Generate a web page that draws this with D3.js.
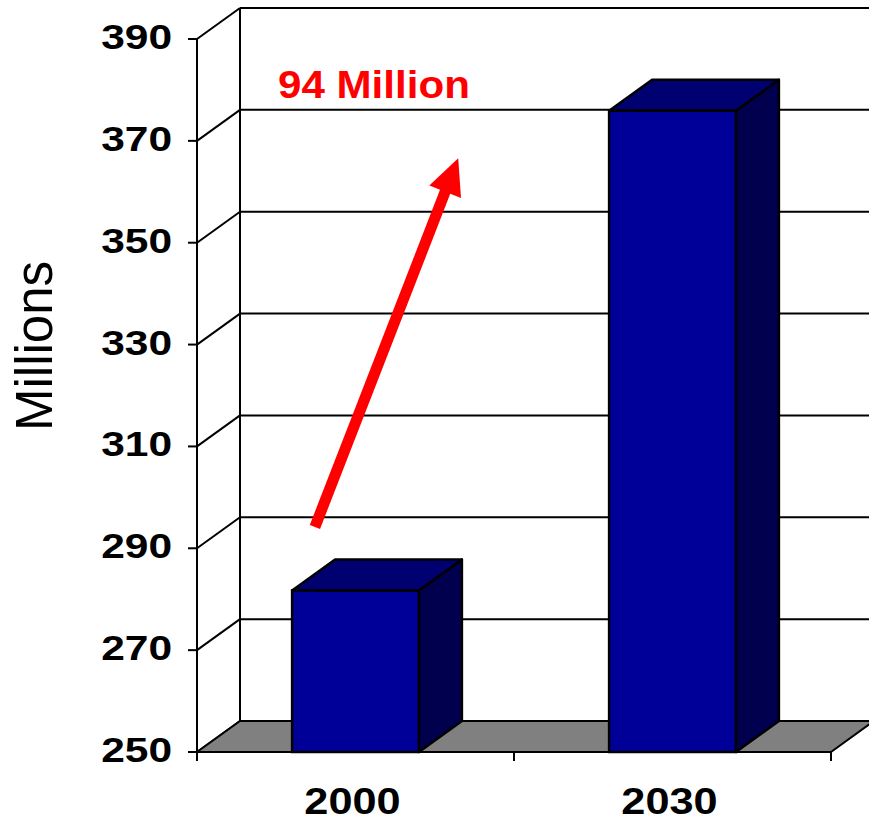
<!DOCTYPE html>
<html>
<head>
<meta charset="utf-8">
<script src="https://cdn.jsdelivr.net/npm/d3@7"></script>
<style>
  html, body { margin: 0; padding: 0; background: #fff; }
  svg { display: block; }
  text { font-family: Arial, "Liberation Sans", sans-serif; }
</style>
</head>
<body>
<svg id="chart" width="869" height="826"></svg>
<script>
// ---- data ----
const categories = ["2000", "2030"];
const values = [281.7, 375.9];
const yTicks = [250, 270, 290, 310, 330, 350, 370, 390];
const yLabel = "Millions";
const annotationText = "94 Million";
// annotation arrow, in value/fraction terms
const arrowTail = { fx: 0.186, v: 294.2 };
const arrowTip  = { fx: 0.412, v: 366.6 };

// ---- layout ----
const svg = d3.select("#chart");
const pLeft = 197, pRight = 831, pBottom = 752, pTop = 39;
const DX = 43, DY = -31;

const y = d3.scaleLinear().domain([250, 390]).range([pBottom, pTop]);
const x = d3.scaleBand().domain(categories).range([pLeft, pRight]).paddingInner(0).paddingOuter(0);
const fx = d3.scaleLinear().domain([0, 1]).range([pLeft, pRight]);
const barW = x.bandwidth() * 0.4;

const g = svg.append("g");

// back wall gridlines
g.selectAll("line.gridBack").data(yTicks).join("line")
  .attr("x1", pLeft + DX).attr("x2", pRight + DX)
  .attr("y1", d => y(d) + DY).attr("y2", d => y(d) + DY)
  .attr("stroke", "#000").attr("stroke-width", 2);

// side wall gridlines
g.selectAll("line.gridSide").data(yTicks).join("line")
  .attr("x1", pLeft).attr("x2", pLeft + DX)
  .attr("y1", d => y(d)).attr("y2", d => y(d) + DY)
  .attr("stroke", "#000").attr("stroke-width", 2);

// back wall left edge
g.append("line")
  .attr("x1", pLeft + DX).attr("x2", pLeft + DX)
  .attr("y1", y(390) + DY).attr("y2", y(250) + DY)
  .attr("stroke", "#000").attr("stroke-width", 2);

// floor
g.append("polygon")
  .attr("points", [[pLeft, y(250)], [pRight, y(250)], [pRight + DX, y(250) + DY], [pLeft + DX, y(250) + DY]].map(p => p.join(",")).join(" "))
  .attr("fill", "#808080").attr("stroke", "#000").attr("stroke-width", 2).attr("stroke-linejoin", "round");

// front y axis
g.append("line")
  .attr("x1", pLeft).attr("x2", pLeft).attr("y1", y(390)).attr("y2", y(250))
  .attr("stroke", "#000").attr("stroke-width", 2);
g.selectAll("line.ytick").data(yTicks).join("line")
  .attr("x1", pLeft - 9).attr("x2", pLeft)
  .attr("y1", d => y(d)).attr("y2", d => y(d))
  .attr("stroke", "#000").attr("stroke-width", 2);

// x ticks
const xTickPos = [pLeft, ...categories.slice(1).map(c => x(c)), pRight];
g.selectAll("line.xtick").data(xTickPos).join("line")
  .attr("x1", d => d).attr("x2", d => d)
  .attr("y1", y(250)).attr("y2", y(250) + 9)
  .attr("stroke", "#000").attr("stroke-width", 2);

// bars
const bars = g.selectAll("g.bar").data(categories.map((c, i) => ({ c, v: values[i] }))).join("g");
bars.each(function (d) {
  const sel = d3.select(this);
  const x0 = x(d.c) + (x.bandwidth() - barW) / 2, x1 = x0 + barW;
  const yT = y(d.v), yB = y(250);
  const pts = a => a.map(p => p.join(",")).join(" ");
  sel.append("polygon")
    .attr("points", pts([[x1, yB], [x1 + DX, yB + DY], [x1 + DX, yT + DY], [x1, yT]]))
    .attr("fill", "#00004f").attr("stroke", "#000").attr("stroke-width", 2.5).attr("stroke-linejoin", "round");
  sel.append("polygon")
    .attr("points", pts([[x0, yT], [x0 + DX, yT + DY], [x1 + DX, yT + DY], [x1, yT]]))
    .attr("fill", "#000070").attr("stroke", "#000").attr("stroke-width", 2.5).attr("stroke-linejoin", "round");
  sel.append("rect")
    .attr("x", x0).attr("y", yT).attr("width", barW).attr("height", yB - yT)
    .attr("fill", "#000099").attr("stroke", "#000").attr("stroke-width", 2.5);
});

// x axis front line
g.append("line")
  .attr("x1", pLeft).attr("x2", pRight).attr("y1", y(250)).attr("y2", y(250))
  .attr("stroke", "#000").attr("stroke-width", 2);

// y tick labels
g.selectAll("text.ylab").data(yTicks).join("text")
  .attr("transform", d => `translate(172,${y(d) + 10}) scale(1.18,1)`)
  .attr("text-anchor", "end")
  .attr("font-size", 36).attr("font-weight", "bold").attr("fill", "#000")
  .text(d => d);

// x labels
g.selectAll("text.xlab").data(categories).join("text")
  .attr("transform", d => `translate(${x(d) + x.bandwidth() / 2 - 3},814) scale(1.17,1)`)
  .attr("text-anchor", "middle")
  .attr("font-size", 37).attr("font-weight", "bold").attr("fill", "#000")
  .text(d => d);

// y axis title
g.append("text")
  .attr("transform", "translate(52,346) rotate(-90)")
  .attr("text-anchor", "middle")
  .attr("font-size", 51).attr("fill", "#000")
  .text(yLabel);

// annotation text
g.append("text")
  .attr("transform", "translate(278,98) scale(1.08,1)")
  .attr("font-size", 39).attr("font-weight", "bold").attr("fill", "#ff0000")
  .text(annotationText);

// annotation arrow
const tx = fx(arrowTail.fx), ty = y(arrowTail.v);
const hx = fx(arrowTip.fx), hy = y(arrowTip.v);
const ang = Math.atan2(hy - ty, hx - tx);
const headLen = 36, headHalf = 17;
const bx = hx - headLen * Math.cos(ang), by = hy - headLen * Math.sin(ang);
g.append("line")
  .attr("x1", tx).attr("y1", ty).attr("x2", bx + 2 * Math.cos(ang)).attr("y2", by + 2 * Math.sin(ang))
  .attr("stroke", "#ff0000").attr("stroke-width", 11);
const nx = -Math.sin(ang), ny = Math.cos(ang);
g.append("polygon")
  .attr("points", [[hx, hy], [bx + headHalf * nx, by + headHalf * ny], [bx - headHalf * nx, by - headHalf * ny]].map(p => p.join(",")).join(" "))
  .attr("fill", "#ff0000");
</script>
</body>
</html>
